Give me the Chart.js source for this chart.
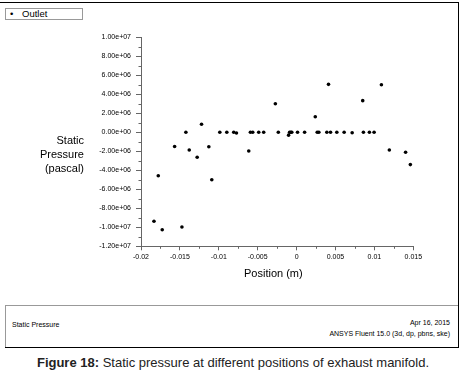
<!DOCTYPE html>
<html lang="en">
  <head>
    <meta charset="UTF-8" />
    <title>Static Pressure</title>
    <script src="https://cdn.jsdelivr.net/npm/chart.js"></script>
    <style>
      body { margin: 0; background: #fff; font-family: 'Liberation Sans', Arial, sans-serif; }
      #wrap { position: relative; width: 466px; height: 377px; overflow: hidden; }
      #chart { position: absolute; left: 0; top: 0; }
      .abs { position: absolute; white-space: nowrap; color: #000; }
    </style>
  </head>
  <body>
    <div id="wrap">
      <!-- frame -->
      <div class="abs" style="left:0; top:2px; width:459px; height:1px; background:#000;"></div>
      <div class="abs" style="left:458px; top:2px; width:1px; height:346px; background:#000;"></div>
      <div class="abs" style="left:5px; top:347px; width:454px; height:1px; background:#000;"></div>
      <div class="abs" style="left:5px; top:305px; width:453px; height:1px; background:#999;"></div>
      <div class="abs" style="left:5px; top:305px; width:1px; height:42px; background:#999;"></div>

      <!-- legend -->
      <div class="abs" style="left:5px; top:8px; width:76px; height:10px; border:1px solid #999; font-size:9.5px; line-height:10px;">
        <span style="position:absolute; left:4px; top:0;">&bull;</span>
        <span style="position:absolute; left:16px; top:0;">Outlet</span>
      </div>

      <canvas id="chart" width="466" height="300"></canvas>

      <!-- axis titles -->
      <div class="abs" style="right:382px; top:133px; font-size:11px; line-height:14px; text-align:right;">Static<br />Pressure<br />(pascal)</div>
      <div class="abs" style="left:244px; top:267px; font-size:11px;">Position (m)</div>

      <!-- footer -->
      <div class="abs" style="left:12px; top:321px; font-size:7px;">Static Pressure</div>
      <div class="abs" style="right:16px; top:319px; font-size:7px;">Apr 16, 2015</div>
      <div class="abs" style="right:16px; top:330px; font-size:7px;">ANSYS Fluent 15.0 (3d, dp, pbns, ske)</div>

      <!-- caption -->
      <div class="abs" style="left:0; width:466px; top:355px; font-size:13px; text-align:center; color:#222;"><b>Figure 18:</b> Static pressure at different positions of exhaust manifold.</div>
    </div>

    <script>
      // data
      const positions = [
        -0.01833, -0.01778, -0.01727, -0.01568, -0.01474, -0.01423, -0.0138, -0.01278, -0.01222, -0.01128,
        -0.0109, -0.00987, -0.00897, -0.00808, -0.00773, -0.00615, -0.00594, -0.00564, -0.00487, -0.00423,
        -0.00273, -0.00235, -0.00103, -0.0009, -0.00075, -0.00062, 0.00012, 0.00103, 0.0024, 0.00265,
        0.00286, 0.00389, 0.0041, 0.00436, 0.00517, 0.00611, 0.00714, 0.0085, 0.00859, 0.00936,
        0.00996, 0.0109, 0.01192, 0.01401, 0.01462
      ];
      const pressures = [
        -9.37e6, -4.57e6, -10.25e6, -1.5e6, -9.97e6, 0, -1.86e6, -2.62e6, 0.84e6, -1.52e6,
        -4.99e6, 0, 0, 0, -0.07e6, -1.97e6, 0, 0, 0, 0,
        3.0e6, 0, -0.3e6, 0, 0, 0, 0, 0, 1.64e6, 0,
        0, 0, 5.05e6, 0, 0, 0, -0.04e6, 3.33e6, 0, 0,
        0, 5.0e6, -1.86e6, -2.1e6, -3.4e6
      ];
      const xTicks = [-0.02, -0.015, -0.01, -0.005, 0, 0.005, 0.01, 0.015];
      const xMinor = [-0.0175, -0.0125, -0.0075, -0.0025, 0.0025, 0.0075, 0.0125];
      const yTicks = [1e7, 8e6, 6e6, 4e6, 2e6, 0, -2e6, -4e6, -6e6, -8e6, -1e7, -1.2e7];
      const yMinor = [9e6, 7e6, 5e6, 3e6, 1e6, -1e6, -3e6, -5e6, -7e6, -9e6, -1.1e7];

      function expLabel(v) {
        let s = Number(v).toExponential(2);
        return s.replace(/e([+-])(\d)$/, 'e$10$2');
      }

      // short minor ticks
      const minorTicks = {
        id: 'minorTicks',
        afterDraw(chart) {
          const ctx = chart.ctx;
          const xs = chart.scales.x, ys = chart.scales.y;
          ctx.save();
          ctx.strokeStyle = '#666';
          ctx.lineWidth = 1;
          ctx.beginPath();
          yMinor.forEach((v) => {
            const p = Math.round(ys.getPixelForValue(v)) + 0.5;
            ctx.moveTo(xs.left - 2.5, p);
            ctx.lineTo(xs.left, p);
          });
          xMinor.forEach((v) => {
            const p = Math.round(xs.getPixelForValue(v)) + 0.5;
            ctx.moveTo(p, ys.bottom);
            ctx.lineTo(p, ys.bottom + 2.5);
          });
          ctx.stroke();
          ctx.restore();
        },
      };

      const data = {
        datasets: [
          {
            label: 'Outlet',
            data: positions.map((x, i) => ({ x: x, y: pressures[i] })),
            backgroundColor: '#000',
            borderColor: '#000',
            borderWidth: 0,
            pointRadius: 1.8,
            pointHoverRadius: 1.8,
          },
        ],
      };

      const config = {
        type: 'scatter',
        data: data,
        options: {
          responsive: false,
          devicePixelRatio: 1,
          animation: false,
          layout: { padding: { left: 0, right: 52.7, top: 37.3, bottom: 33.7 } },
          plugins: { legend: { display: false }, tooltip: { enabled: false } },
          scales: {
            x: {
              type: 'linear',
              min: -0.02,
              max: 0.015,
              afterFit: (s) => { s.height = 20; },
              afterBuildTicks: (s) => { s.ticks = xTicks.map((v) => ({ value: v })); },
              grid: { drawOnChartArea: false, tickLength: 4, color: '#666' },
              border: { color: '#666' },
              ticks: {
                color: '#000',
                font: { family: 'Liberation Sans', size: 7 },
                padding: 3,
                maxRotation: 0,
                callback: (v) => String(v),
              },
            },
            y: {
              type: 'linear',
              min: -1.2e7,
              max: 1e7,
              afterFit: (s) => { s.width = 141; },
              afterBuildTicks: (s) => { s.ticks = yTicks.map((v) => ({ value: v })); },
              grid: { drawOnChartArea: false, tickLength: 5, color: '#666' },
              border: { color: '#666' },
              ticks: {
                color: '#000',
                font: { family: 'Liberation Sans', size: 7 },
                padding: 5,
                callback: (v) => expLabel(v),
              },
            },
          },
        },
        plugins: [minorTicks],
      };

      const myChart = new Chart(document.getElementById('chart'), config);
    </script>
  </body>
</html>
